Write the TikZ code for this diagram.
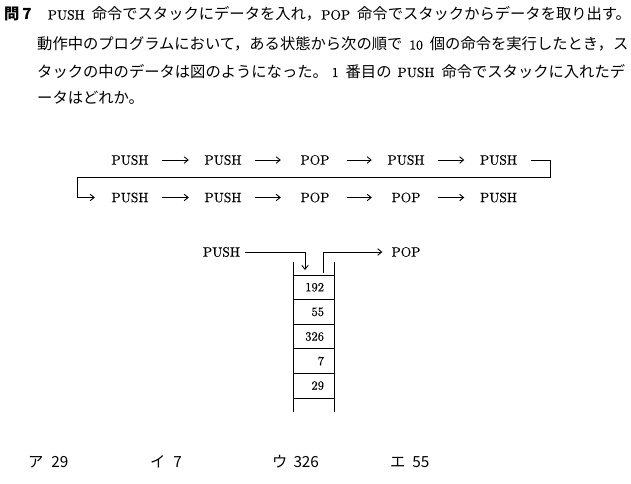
\documentclass[tikz,border=0pt]{standalone}
\usepackage{fontspec}
\newfontfamily\jp{Noto Sans CJK JP}
\newfontfamily\cent{lmroman10-regular.otf}[FakeBold=0.4]
\usetikzlibrary{arrows.meta,calc}
\newcommand\lt[1]{{\cent\fontsize{13.5}{16}\selectfont #1}}
\begin{document}
\begin{tikzpicture}[x=1pt,y=-1pt,
  every node/.style={inner sep=0pt},
  lat/.style={font=\cent\fontsize{13.5}{16}\selectfont},
  jtext/.style={anchor=base west,font=\jp\fontsize{15.3}{18}\selectfont},
  flow/.style={lat,minimum width=54pt,minimum height=12pt},
  conn/.style={line width=0.9pt,-{Straight Barb[length=4pt,width=6.5pt]}},
  flowarrow/.style={conn,shorten <=5pt,shorten >=7pt},
  cell/.style={draw,line width=0.9pt,minimum height=24.6pt,text width=21pt,inner xsep=10pt,align=right,font=\cent\fontsize{12.5}{14}\selectfont},
  wall/.style={line width=0.9pt}]
\useasboundingbox (0,0) rectangle (631,483);

% question text
\node[jtext] (t1) at (4,19.5) {{\bfseries 問\hspace{3pt}7}\hspace{16pt}\lt{PUSH}\hspace{7pt}命令でスタックにデータを入れ，\lt{POP}\hspace{7pt}命令でスタックからデータを取り出す。};
\node[jtext] (t2) at (37,49.5) {動作中のプログラムにおいて，ある状態から次の順で\hspace{7pt}\lt{10}\hspace{7pt}個の命令を実行したとき，ス};
\node[jtext] (t3) at (37,77) {タックの中のデータは図のようになった。\hspace{4pt}\lt{1}\hspace{7pt}番目の\hspace{6pt}\lt{PUSH}\hspace{7pt}命令でスタックに入れたデ};
\node[jtext] (t4) at (37,103) {ータはどれか。};

% instruction sequence
\node[flow] (r11) at (130,160) {PUSH};
\node[flow] (r12) at (223,160) {PUSH};
\node[flow] (r13) at (315,160) {POP};
\node[flow] (r14) at (406,160) {PUSH};
\node[flow] (r15) at (498.5,160) {PUSH};
\node[flow] (r21) at (130,197.5) {PUSH};
\node[flow] (r22) at (223,197.5) {PUSH};
\node[flow] (r23) at (315,197.5) {POP};
\node[flow] (r24) at (406,197.5) {POP};
\node[flow] (r25) at (498.5,197.5) {PUSH};
\draw[flowarrow] (r11) -- (r12);
\draw[flowarrow] (r12) -- (r13);
\draw[flowarrow] (r13) -- (r14);
\draw[flowarrow] (r14) -- (r15);
\draw[flowarrow] (r21) -- (r22);
\draw[flowarrow] (r22) -- (r23);
\draw[flowarrow] (r23) -- (r24);
\draw[flowarrow] (r24) -- (r25);
\coordinate (c1) at (550,177);
\coordinate (c2) at (77,177);
\draw[conn] ([xshift=5pt]r15.east) -| (c1) -- (c2) |- ([xshift=-8pt]r21.west);

% stack
\node[cell] (s1) at (313.5,287.3) {192};
\node[cell] (s2) at (313.5,311.9) {55};
\node[cell] (s3) at (313.5,336.5) {326};
\node[cell] (s4) at (313.5,361.1) {7};
\node[cell] (s5) at (313.5,385.7) {29};
\draw[wall] (293,262) -- (293,412);
\draw[wall] (334,262) -- (334,412);
\node[lat] (pushin) at (221.5,252) {PUSH};
\node[lat] (popout) at (406,252) {POP};
\coordinate (pin) at (305,270);
\coordinate (pout) at (323,273);
\draw[conn] ([xshift=5pt]pushin.east) -| (pin);
\draw[conn] (pout) |- ([xshift=-9pt]popout.west);

% answers
\node[jtext] (a1) at (28,467) {ア\hspace{8pt}29};
\node[jtext] (a2) at (150,467) {イ\hspace{8pt}7};
\node[jtext] (a3) at (272,467) {ウ\hspace{6pt}326};
\node[jtext] (a4) at (390,467) {エ\hspace{7pt}55};
\end{tikzpicture}
\end{document}
